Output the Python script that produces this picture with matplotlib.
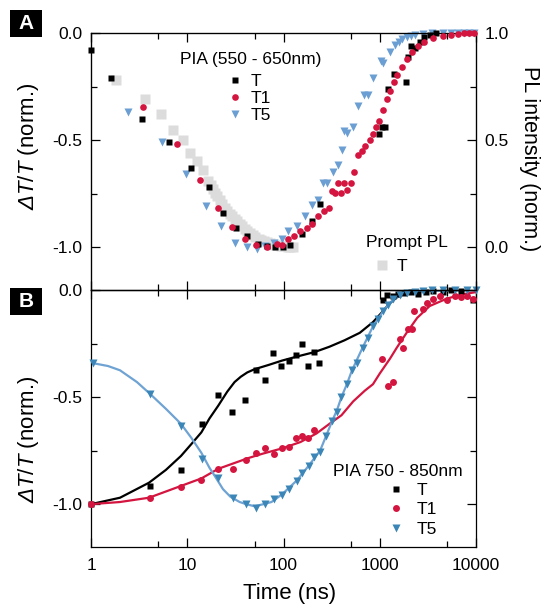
import numpy as np
import matplotlib
matplotlib.use("Agg")
import matplotlib.pyplot as plt
from matplotlib.ticker import LogLocator, NullFormatter, MultipleLocator

plt.rcParams['font.family'] = ['Liberation Sans', 'DejaVu Sans']
plt.rcParams['mathtext.fontset'] = 'custom'
plt.rcParams['mathtext.rm'] = 'Liberation Sans'
plt.rcParams['mathtext.it'] = 'Liberation Sans:italic'
plt.rcParams['mathtext.sf'] = 'Liberation Sans:italic'   # italic capital Delta

# ---- panel A : PIA (550 - 650nm) ----
a_T_t = [1.0, 1.6, 3.4, 6.5, 11, 17, 23.5, 32, 42, 54, 67, 82, 99, 117, 155, 200, 240,
         980, 1050, 1130, 1220, 1400, 1860, 1970, 2100, 2300, 2650, 2900, 3300, 3800]
a_T_y = [-0.08, -0.21, -0.40, -0.51, -0.63, -0.72, -0.84, -0.91, -0.95, -0.985, -0.995, -1.0,
         -1.0, -0.99, -0.94, -0.88, -0.80, -0.47, -0.44, -0.44, -0.26, -0.19, -0.23, -0.11,
         -0.06, -0.07, -0.04, -0.02, -0.01, 0.0]

a_T1_t = [3.5, 7.8, 13.5, 20.8, 29, 40, 52, 67, 85, 97, 111, 130, 150, 175, 200, 228, 265,
          300, 320, 345, 370, 395, 420, 460, 500, 540, 590, 650, 710, 790, 850, 910, 980,
          1080, 1180, 1280, 1400, 1500, 1700, 1900, 2150, 2500, 2900, 3600, 4500, 5500,
          6500, 7500, 8500, 9500]
a_T1_y = [-0.345, -0.52, -0.685, -0.815, -0.905, -0.96, -0.99, -0.997, -0.985, -0.99, -0.96,
          -0.95, -0.925, -0.91, -0.89, -0.855, -0.83, -0.815, -0.74, -0.745, -0.70, -0.745,
          -0.70, -0.735, -0.70, -0.65, -0.57, -0.55, -0.53, -0.50, -0.47, -0.44, -0.41,
          -0.36, -0.31, -0.27, -0.23, -0.195, -0.16, -0.12, -0.09, -0.06, -0.04, -0.025,
          -0.015, -0.01, -0.005, 0.0, 0.0, 0.0]

a_T5_t = [2.4, 5.5, 9.7, 15.7, 22.4, 31, 41.6, 53, 64, 80, 96, 111, 137, 166, 197, 228, 256,
          280, 325, 370, 405, 430, 455, 530, 590, 680, 750, 850, 1020, 1090, 1280, 1440,
          1600, 1700, 1900, 2100, 2300, 2800, 3500, 4500, 5500, 6500, 7500, 8500, 9500]
a_T5_y = [-0.37, -0.51, -0.66, -0.81, -0.90, -0.98, -1.0, -1.01, -0.995, -0.98, -0.96,
          -0.925, -0.90, -0.855, -0.805, -0.78, -0.70, -0.70, -0.65, -0.615, -0.545, -0.46,
          -0.465, -0.44, -0.34, -0.29, -0.29, -0.21, -0.13, -0.14, -0.09, -0.056, -0.04,
          -0.03, -0.02, -0.015, -0.01, -0.005, 0.0, 0.0, 0.0, 0.0, 0.0, 0.0, 0.0]

# prompt PL (right axis)
pl_t = [1.8, 3.6, 5.3, 7.1, 9.0, 10.7, 12.6, 14.6, 16.4, 17.5, 18.5, 19.5, 20.5, 22, 23,
        24.5, 26, 27.5, 29, 31, 33, 35, 37, 39.5, 42, 45, 48, 51, 55, 59, 63, 68, 72, 77,
        82, 88, 95, 102, 110, 117, 125]
pl_y = [0.78, 0.69, 0.62, 0.545, 0.50, 0.44, 0.40, 0.36, 0.31, 0.29, 0.27, 0.255, 0.24,
        0.22, 0.20, 0.185, 0.17, 0.157, 0.145, 0.132, 0.12, 0.11, 0.10, 0.087, 0.075, 0.065,
        0.055, 0.047, 0.04, 0.035, 0.03, 0.025, 0.02, 0.016, 0.012, 0.009, 0.006, 0.004,
        0.003, 0.001, 0.0]

# ---- panel B : PIA 750 - 850nm ----
b_T_t = [1.0, 4.1, 8.6, 14.2, 20.8, 29, 40, 52, 64, 78, 94, 113, 134, 155, 180, 207, 234,
         1080, 1180, 1370, 1550, 1800, 2100, 2500, 3000, 3600, 4500, 5500, 7000, 9300]
b_T_y = [-1.0, -0.915, -0.84, -0.625, -0.49, -0.57, -0.515, -0.375, -0.42, -0.295, -0.357,
         -0.33, -0.305, -0.25, -0.357, -0.29, -0.34, -0.047, -0.023, -0.03, -0.02, -0.015,
         -0.01, -0.02, -0.01, -0.005, -0.01, 0.0, -0.005, -0.047]
b_T_fit_t = [1, 2, 4, 6, 8.6, 11, 14, 17, 21, 26, 31, 36, 42, 50, 70, 96, 140, 210, 300, 430,
             620, 850, 1050, 1250, 1500, 1800, 2300, 3500, 10000]
b_T_fit_y = [-1.0, -0.97, -0.90, -0.84, -0.775, -0.72, -0.665, -0.60, -0.54, -0.475, -0.43,
             -0.405, -0.385, -0.37, -0.35, -0.33, -0.31, -0.29, -0.265, -0.235, -0.20,
             -0.15, -0.105, -0.065, -0.035, -0.017, -0.006, -0.001, 0.0]

b_T1_t = [1.0, 4.1, 8.6, 13.9, 20.8, 29.8, 40.6, 51.6, 64, 79, 96, 113, 134, 155, 180, 207,
          1050, 1220, 1370, 1620, 1750, 1970, 2150, 2250, 2800, 3100, 3600, 4200, 5000,
          6000, 7000, 8000, 9300]
b_T1_y = [-1.0, -0.97, -0.92, -0.885, -0.835, -0.835, -0.795, -0.76, -0.74, -0.765, -0.74,
          -0.735, -0.69, -0.68, -0.69, -0.655, -0.32, -0.45, -0.43, -0.23, -0.27, -0.18,
          -0.18, -0.10, -0.09, -0.06, -0.04, -0.03, -0.045, -0.03, -0.035, -0.03, -0.04]
b_T1_fit_t = [1, 2, 4, 8.6, 14, 21, 30, 43, 60, 96, 150, 220, 300, 400, 530, 700, 850, 1000,
              1280, 1500, 1900, 2450, 3300, 5000, 7300, 10000]
b_T1_fit_y = [-1.0, -0.99, -0.97, -0.915, -0.88, -0.835, -0.81, -0.785, -0.765, -0.74,
              -0.71, -0.67, -0.625, -0.585, -0.52, -0.47, -0.44, -0.39, -0.32, -0.27, -0.20,
              -0.13, -0.075, -0.04, -0.02, -0.01]

b_T5_t = [1.05, 4.1, 8.6, 14.2, 20.8, 30, 40.6, 51.6, 64, 79, 96, 114, 137, 156, 183, 207,
          240, 275, 318, 360, 400, 455, 510, 580, 670, 750, 850, 960, 1080, 1220, 1370,
          1620, 1900, 2300, 2800, 3500, 4500, 6000, 8000, 10000]
b_T5_y = [-0.34, -0.485, -0.635, -0.79, -0.88, -0.97, -1.0, -1.02, -1.0, -0.976, -0.957,
          -0.93, -0.89, -0.855, -0.82, -0.78, -0.755, -0.68, -0.61, -0.57, -0.50, -0.44,
          -0.375, -0.34, -0.27, -0.225, -0.17, -0.137, -0.10, -0.07, -0.043, -0.023,
          -0.015, -0.01, -0.005, 0.0, 0.0, 0.0, 0.0, 0.0]
b_T5_fit_t = [1, 1.5, 2, 3, 4.1, 6, 8.6, 11, 14, 17, 19.4, 23.5, 28, 35, 41, 50, 62, 75, 96,
              137, 183, 240, 275, 318, 360, 400, 455, 510, 580, 670, 750, 850, 960, 1080,
              1220, 1370, 1620, 2000, 3000, 10000]
b_T5_fit_y = [-0.34, -0.355, -0.375, -0.43, -0.485, -0.555, -0.625, -0.69, -0.76, -0.83,
              -0.87, -0.93, -0.965, -0.99, -1.0, -1.01, -1.0, -0.99, -0.955, -0.89, -0.82,
              -0.75, -0.685, -0.615, -0.56, -0.50, -0.44, -0.38, -0.325, -0.265, -0.22,
              -0.17, -0.135, -0.10, -0.07, -0.047, -0.025, -0.012, -0.004, 0.0]

xticks = [1, 10, 100, 1000, 10000]
xticklabels = ['1', '10', '100', '1000', '10000']

red = '#d3153f'
blueA = '#6b9fd3'
blueB = '#3b86b7'
blue_line = '#6ea3d3'
gray = '#dcdcdc'

fig = plt.figure(figsize=(5.51, 6.04), dpi=100)
axA = fig.add_axes([0.1652, 0.5199, 0.6987, 0.4255])
axB = fig.add_axes([0.1652, 0.0944, 0.6987, 0.4255])
axA2 = axA.twinx()
axA.set_zorder(axA2.get_zorder() + 1)
axA.patch.set_visible(False)

ms_kw = dict(linestyle='none', clip_on=False)
axA2.plot(pl_t, pl_y, marker='s', ms=7.6, color=gray, mec='none', label='T', **ms_kw)
axA.plot(a_T_t, a_T_y, marker='s', ms=4.2, color='black', mec='none', label='T', zorder=3, **ms_kw)
axA.plot(a_T1_t, a_T1_y, marker='o', ms=4.8, color=red, mec='none', label='T1', zorder=4, **ms_kw)
axA.plot(a_T5_t, a_T5_y, marker='v', ms=5.5, color=blueA, mec='none', label='T5', zorder=2, **ms_kw)

axB.plot(b_T_fit_t, b_T_fit_y, color='black', lw=1.6, zorder=2)
axB.plot(b_T1_fit_t, b_T1_fit_y, color=red, lw=1.6, zorder=2)
axB.plot(b_T5_fit_t, b_T5_fit_y, color=blue_line, lw=1.6, zorder=2)
axB.plot(b_T_t, b_T_y, marker='s', ms=4.5, color='black', mec='none', label='T', zorder=3, **ms_kw)
axB.plot(b_T1_t, b_T1_y, marker='o', ms=5, color=red, mec='none', label='T1', zorder=3, **ms_kw)
axB.plot(b_T5_t, b_T5_y, marker='v', ms=5.5, color=blueB, mec='none', label='T5', zorder=3, **ms_kw)

for ax in (axA, axB):
    ax.set_xscale('log')
    ax.set_xlim(1, 10000)
    ax.set_ylim(-1.2, 0)
    ax.set_xticks(xticks, labels=xticklabels)
    ax.xaxis.set_minor_locator(LogLocator(base=10, subs=[5]))
    ax.xaxis.set_minor_formatter(NullFormatter())
    ax.yaxis.set_major_locator(MultipleLocator(0.5))
    ax.yaxis.set_minor_locator(MultipleLocator(0.25))
    ax.yaxis.set_major_formatter(plt.FuncFormatter(lambda v, p: f'{v:.1f}'))
    ax.tick_params(which='both', direction='in', top=True, labelsize=12.5, width=0.9, pad=6)
    ax.tick_params(which='major', length=6.5)
    ax.tick_params(which='minor', length=4.3)
    for s in ax.spines.values():
        s.set_linewidth(0.9)
    ax.set_ylabel(r'$\mathsf{Δ}\mathit{T/T}$ (norm.)', fontsize=16)

axA.tick_params(labelbottom=False, right=False)
axB.tick_params(which='both', right=True)
axB.tick_params(axis='x', pad=8)

axA2.set_ylim(-0.2, 1.0)
axA2.yaxis.set_major_locator(MultipleLocator(0.5))
axA2.yaxis.set_minor_locator(MultipleLocator(0.25))
axA2.yaxis.set_major_formatter(plt.FuncFormatter(lambda v, p: f'{v:.1f}'))
axA2.tick_params(which='both', direction='in', labelsize=12.5, width=0.9, pad=6)
axA2.tick_params(which='major', length=6.5)
axA2.tick_params(which='minor', length=4.3)
axA2.set_ylabel('PL intensity (norm.)', fontsize=15.5, rotation=270)
axA2.yaxis.set_label_coords(1.166, 0.51)

axA.yaxis.set_label_coords(-0.130, 0.56)
axB.yaxis.set_label_coords(-0.130, 0.42)
axB.set_xlabel('Time (ns)', fontsize=16)
axB.xaxis.set_label_coords(0.517, -0.14)

# legends
leg_kw = dict(frameon=False, fontsize=12.5, handlelength=0.8,
              borderpad=0, borderaxespad=0)
axA.text(0.231, 0.895, 'PIA (550 - 650nm)', transform=axA.transAxes, fontsize=12.5,
         ha='left', va='center')
axA.legend(loc='upper left', bbox_to_anchor=(0.357, 0.84), labelspacing=0.1,
           handletextpad=0.45, **leg_kw)
axA2.text(0.714, 0.183, 'Prompt PL', transform=axA2.transAxes, fontsize=12.5,
          ha='left', va='center')
axA2.legend(loc='upper left', bbox_to_anchor=(0.738, 0.12), handletextpad=0.45, **leg_kw)

axB.text(0.628, 0.295, 'PIA 750 - 850nm', transform=axB.transAxes, fontsize=12.5,
         ha='left', va='center')
axB.legend(loc='upper left', bbox_to_anchor=(0.775, 0.25), labelspacing=0.25,
           handletextpad=0.75, **leg_kw)

# panel letters
for label, y0 in (('A', 1 - 37 / 604), ('B', 1 - 315 / 604)):
    fig.add_artist(plt.Rectangle((10 / 551, y0), 32 / 551, 27 / 604, transform=fig.transFigure,
                                 fc='black', ec='none'))
    fig.text(26 / 551, y0 + 13.5 / 604, label, color='white', fontsize=15, fontweight='bold',
             ha='center', va='center')

fig.savefig('out.png', dpi=100)
